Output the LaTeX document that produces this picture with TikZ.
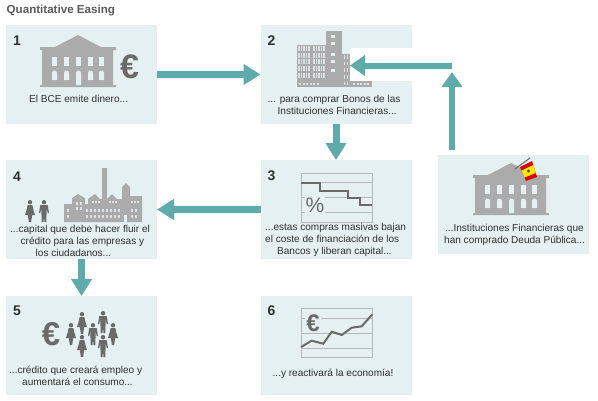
\documentclass[tikz,border=0pt]{standalone}
\usepackage{fontspec}
\setmainfont{Liberation Sans}
\usetikzlibrary{arrows.meta}
\definecolor{boxc}{HTML}{E4F0F1}
\definecolor{teal1}{HTML}{5FAAAA}
\definecolor{icon}{HTML}{ABABAB}
\definecolor{darkicon}{HTML}{6A6A6A}
\definecolor{txt}{HTML}{303030}
\definecolor{framec}{HTML}{B4B8B8}
\colorlet{winc}{boxc!82!icon}
\tikzset{
  panel/.style={fill=boxc,draw=none,inner sep=0,outer sep=0,minimum width=151pt,minimum height=99pt},
  flow/.style={draw=teal1,line width=7pt,-{Triangle[length=17pt,width=20pt]}},
  thinflow/.style={draw=teal1,line width=6pt,-{Triangle[length=15pt,width=20pt]}},
  num/.style={font=\fontsize{14}{14}\selectfont\bfseries,text=txt,inner sep=0,anchor=west},
  label/.style={font=\fontsize{10.05}{12}\selectfont,text=txt,inner sep=0,anchor=north west,align=left},
  symb/.style={text=darkicon,inner sep=0,font=\bfseries},
  bank/.pic={
    \fill[icon] (40,47)--(55,47)--(78,35)--(101,47)--(116,47)--(116,50)--(113,50)--(113,85)--(116,85)--(116,87)--(40,87)--(40,85)--(42,85)--(42,50)--(40,50)--cycle;
    \foreach \xa in {52,64,76,88,99}{\fill[boxc] (\xa,57) rectangle ++(5,9);}
    \foreach \xa in {52,64,88,99}{\fill[boxc] (\xa,80)--(\xa,73) arc[start angle=180,end angle=0,radius=2.5pt] --(\xa+5,80)--cycle;}
    \fill[boxc] (76,85)--(76,73) arc[start angle=180,end angle=0,radius=2.5pt] --(81,85)--cycle;
  },
  man/.pic={
    \fill[darkicon] (0,2.2) circle[radius=2.2pt];
    \fill[darkicon] (-3.7,5)--(3.7,5)--(5,13)--(3.7,13)--(2.7,8)--(2.3,22)--(0.4,22)--(0,14)--(-0.4,22)--(-2.3,22)--(-2.7,8)--(-3.7,13)--(-5,13)--cycle;
  },
  woman/.pic={
    \fill[darkicon] (0,2.2) circle[radius=2.2pt];
    \fill[darkicon] (-2.4,5)--(2.4,5)--(3.2,9)--(5,15)--(2.2,15)--(1.1,22)--(-1.1,22)--(-2.2,15)--(-5,15)--(-3.2,9)--cycle;
  }
}
\begin{document}
\begin{tikzpicture}[x=1pt,y=-1pt]
\useasboundingbox (0,0) rectangle (598,400);
% panels
\node[panel] (b1) at (81.5,74.5) {};
\node[panel] (b2) at (336,74.5) {};
\node[panel] (b3) at (336,209.5) {};
\node[panel] (b4) at (81.5,209.5) {};
\node[panel] (b5) at (81.5,345.5) {};
\node[panel] (b6) at (336,345.5) {};
\node[panel] (bf) at (513.5,204) {};
\fill[white] (350,48) rectangle (412,81);
% title
\node[font=\fontsize{11.6}{13}\selectfont\bfseries,text=darkicon!85!black,inner sep=0,anchor=west] (title) at (6.5,11) {Quantitative Easing};
% numbers
\node[num] (n1) at (13,40.5) {1};
\node[num] (n2) at (267.5,40.5) {2};
\node[num] (n3) at (267.5,175.5) {3};
\node[num] (n4) at (13,177) {4};
\node[num] (n5) at (13,311) {5};
\node[num] (n6) at (267.5,311) {6};
% panel 1
\pic at (0,0) {bank};
\node[symb,font=\fontsize{34}{34}\selectfont\bfseries] (e1) at (129.5,66.5) {€};
\node[label] (t1) at (29,95.5) {El BCE emite dinero...};
% panel 2
\fill[icon] (297,45) rectangle (326,87);
\fill[icon] (326,31) rectangle (342,87);
\fill[icon] (342,54) rectangle (350,87);
\fill[icon] (350,81) rectangle (372,87);
\foreach \ya in {46,52.7,59.4,66,72.7}{
  \foreach \xa in {298,300.5,303,305.5,308,313,315.5,318,320.5,323}{\fill[winc] (\xa,\ya) rectangle ++(1.6,5);}
  \foreach \xa in {343.5,346.5}{\fill[winc] (\xa,\ya+9) rectangle ++(1.6,3.5);}
}
\foreach \ya in {35,42,53,60,69}{\fill[boxc] (331,\ya) rectangle ++(4,3);}
\foreach \xa in {299,302.5,306,309.5,313,316.5,353,356.5,360,363.5,367}{\fill[winc] (\xa,83) rectangle ++(2,1.5);}
\node[label] (t2) at (267.5,95.5) {... para comprar Bonos de las\\\hspace*{10pt}Instituciones Financieras...};
% panel 3
\draw[framec,line width=0.8pt] (301,173) rectangle (372,222);
\foreach \ya in {182.5,197.5,212}{\draw[framec,line width=0.8pt] (301,\ya) -- (372,\ya);}
\node[fill=boxc,inner sep=1pt,text=darkicon,font=\fontsize{21}{21}\selectfont] (pc) at (315,205) {\%};
\draw[darkicon,line width=2pt] (301,182.7) -- (320,182.7) -- (320,190.7) -- (348,190.7) -- (348,198) -- (360,198) -- (360,205) -- (372,205);
\node[label] (t3) at (265,223.5) {...estas compras masivas bajan\\el coste de financiación de los\\\hspace*{12pt}Bancos y liberan capital...};
% right panel
\pic at (433,128) {bank};
\draw[darkicon,line width=1pt] (515,169) -- (530,158);
\fill[red!85!black] (520,167) -- (532,161) -- (537,177) -- (526,181) -- cycle;
\fill[yellow!90!orange] (521.5,170.5) -- (533.3,165) -- (535.8,173) -- (524.5,177.5) -- cycle;
\fill[darkicon!70!black] (528.5,171) circle[radius=1.6pt];
\node[label] (tf) at (444,224) {\hspace*{1pt}...Instituciones Financieras que\\han comprado Deuda Pública...};
% panel 4
\pic at (30,200) {woman};
\pic at (44,200) {man};
\fill[icon] (64,222) -- (64,204) -- (72,204) -- (72,198) -- (78,194) -- (85,198) -- (85,204) -- (88,204) -- (88,199) -- (95,194) -- (100,199) -- (102,199) -- (102,168) -- (107,168) -- (107,199) -- (112,194) -- (117,199) -- (122,199) -- (122,187) -- (126,183) -- (130,187) -- (130,196) -- (142,196) -- (142,222) -- cycle;
\foreach \xa in {76,80}{\fill[winc] (\xa,202) rectangle ++(2,2.5);\fill[winc] (\xa,207) rectangle ++(2,2.5);}
\foreach \xa in {92,95,98,109,112,115,131,134,137}{\fill[winc] (\xa,201) rectangle ++(1.6,1.6);}
\foreach \xa in {86,90,94,98,102,106,110,114,118,131,135}{\fill[winc] (\xa,209) rectangle ++(2,2.5);\fill[winc] (\xa,215) rectangle ++(2,2.5);}
\foreach \ya in {209,215}{\fill[winc] (67,\ya) rectangle ++(2,2.5);}
\fill[boxc] (124,215) rectangle (127,222);
\node[label] (t4) at (10,225) {...capital que debe hacer fluir el\\\hspace*{10.5pt}crédito para las empresas y\\\hspace*{25.5pt}los ciudadanos...};
% panel 5
\node[symb,font=\fontsize{33}{33}\selectfont\bfseries] (e5) at (51,334) {€};
\pic at (71,323) {woman};
\pic at (82,312) {woman};
\pic at (82,335) {woman};
\pic at (113,323) {woman};
\pic at (93,323) {man};
\pic at (103,311) {man};
\pic at (103,335) {man};
\node[label] (t5) at (9,365.5) {...crédito que creará empleo y\\\hspace*{13pt}aumentará el consumo...};
% panel 6
\draw[framec,line width=0.8pt] (301,308) rectangle (372,357);
\foreach \ya in {318,333,348}{\draw[framec,line width=0.8pt] (301,\ya) -- (372,\ya);}
\node[fill=boxc,inner sep=1pt,text=darkicon,font=\fontsize{24}{24}\selectfont\bfseries] (e6) at (313,323) {€};
\draw[darkicon,line width=2pt] (301,347) -- (311.7,340.7) -- (323.3,343.7) -- (331.7,331.7) -- (341.7,335) -- (351.7,327.7) -- (361.7,326.3) -- (372.3,314.3);
\node[label] (t6) at (272.5,369) {...y reactivará la economía!};
% connectors
\coordinate (fbot) at (452,150);
\coordinate (ftop) at (452,72);
\coordinate (lstart) at (452,65.5);
\coordinate (lend) at (350,65.5);
\draw[flow] (b1.east) -- (b2.west);
\draw[flow] (b2.south) -- (b3.north);
\draw[flow] (b3.west) -- (b4.east);
\draw[flow] (b4.south) -- (b5.north);
\draw[thinflow] (fbot) -- (ftop);
\draw[thinflow] (lstart) -- (lend);
\end{tikzpicture}
\end{document}
